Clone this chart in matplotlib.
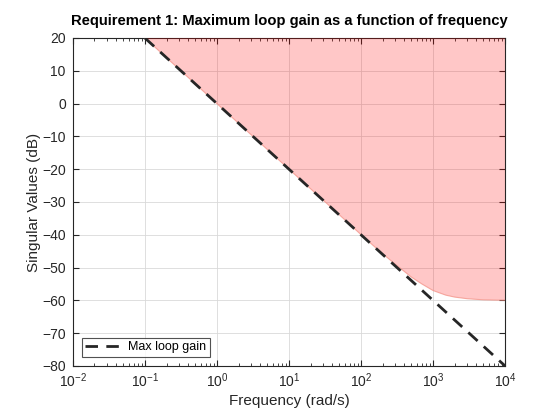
import matplotlib as mpl
mpl.use("Agg")
import matplotlib.pyplot as plt
import numpy as np

mpl.rcParams["font.family"] = ["Liberation Sans", "DejaVu Sans"]

# dashed limit line: Max loop gain (rad/s, dB)
line_freq = [1e-1, 1e4]
line_db = [20, -80]

# lower edge of the shaded (forbidden) region
bound_freq = [0.1, 1, 10, 50, 100, 150, 200, 300, 500, 700, 1000,
              1500, 2000, 3000, 5000, 7000, 10000]
bound_db = [20, 0, -20, -33.9, -39.96, -43.4, -45.8, -49.0, -52.9,
            -55.0, -57.0, -58.4, -59.0, -59.5, -59.83, -59.91, -59.96]

xticks = [1e-2, 1e-1, 1e0, 1e1, 1e2, 1e3, 1e4]
yticks = list(range(-80, 21, 10))

fig = plt.figure(figsize=(5.6, 4.2), dpi=100)
ax = fig.add_axes([0.130, 0.1286, 0.772, 0.781])

gray = (0.15, 0.15, 0.15)

ax.fill_between(bound_freq, bound_db, 20, facecolor=(1, 0.0, 0.0), alpha=0.22,
                edgecolor="none", zorder=5)
ax.plot(bound_freq, bound_db, color=(0.95, 0.55, 0.5), lw=0.8, alpha=0.7, zorder=5)
ax.plot(line_freq, line_db, "--", color=gray, lw=2, dashes=(4.5, 3),
        label="Max loop gain", zorder=6)

ax.set_xscale("log")
ax.set_xlim(1e-2, 1e4)
ax.set_ylim(-80, 20)
ax.set_xticks(xticks)
ax.set_yticks(yticks)
ax.grid(True, which="major", color=(0.85, 0.85, 0.85), lw=0.6)
ax.set_axisbelow(True)

ax.tick_params(which="both", direction="in", top=True, right=True,
               colors=gray, labelsize=10, labelcolor=gray)
ax.tick_params(which="major", length=4)
ax.tick_params(which="minor", length=2.5)
ax.tick_params(axis="y", pad=5)
ax.tick_params(axis="x", pad=4)
for s in ax.spines.values():
    s.set_color(gray)
    s.set_linewidth(0.8)

ax.set_title("Requirement 1: Maximum loop gain as a function of frequency",
             fontsize=10.6, fontweight="bold", color="black", pad=9)
ax.set_xlabel("Frequency (rad/s)", fontsize=11, color=gray, labelpad=3)
ax.set_ylabel("Singular Values (dB)", fontsize=11, color=gray, labelpad=1)

leg = ax.legend(loc="lower left", fontsize=9, frameon=True, fancybox=False,
                edgecolor=gray, handlelength=3.2, borderpad=0.3,
                handletextpad=0.2, borderaxespad=0.7)
leg.get_frame().set_linewidth(0.8)

fig.savefig("out.png", dpi=100)
